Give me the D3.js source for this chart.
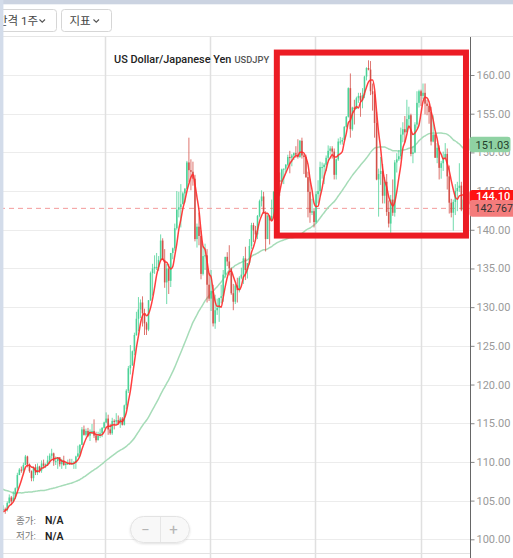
<!DOCTYPE html>
<html><head><meta charset="utf-8">
<script src="https://cdn.jsdelivr.net/npm/d3@7"></script>
<style>
html,body{margin:0;padding:0;background:#fff;overflow:hidden}
svg{display:block;font-family:Roboto,"Noto Sans CJK KR",sans-serif}
</style></head><body>
<svg id="c" width="513" height="558"></svg>
<script>
// ---- DATA (weekly USD/JPY, [high, low, close]; open = previous close) ----
const closes2020 = [108.1,109.5,110.1,109.3,108.4,109.7,109.8,111.6,107.9,105.4,108.0,110.8,107.9,108.5,108.5,107.5,107.5,106.9,106.7,107.1,107.6,107.8,109.6,107.4,106.9,107.2,107.5,106.9,107.0,106.1,105.9,105.9,106.6,105.8,105.4,106.2,106.1,104.6,105.6,105.3,105.6,105.4,104.7,104.7,103.4,104.6,103.9,104.1,104.2,104.0,103.3,103.6,103.3];

const w2021 = [
[104.1,102.6,103.9],[104.4,103.5,103.9],[104.1,103.3,103.8],[104.9,103.6,104.7],
[105.8,104.6,105.4],[105.6,104.4,104.9],[106.2,104.9,105.4],[106.7,105.2,106.6],
[108.6,106.4,108.3],[109.2,108.3,109.0],[109.4,108.6,108.9],[109.9,108.4,109.6],[110.9,109.6,110.7],
[110.8,109.3,109.7],[109.8,108.6,108.8],[108.9,107.5,107.9],[109.4,107.5,109.3],
[109.7,108.3,108.6],[109.8,108.3,109.4],[109.5,108.6,108.9],[110.2,108.6,109.8],
[110.3,109.2,109.5],[109.8,109.2,109.7],[110.8,109.5,110.2],[111.1,109.7,110.8],[111.7,110.4,111.1],
[111.2,109.5,110.1],[110.7,109.6,110.1],[110.6,109.1,110.6],[110.6,109.4,109.7],
[110.4,109.1,110.2],[110.8,109.5,109.6],[110.0,109.1,109.8],[110.3,109.6,109.8],
[110.4,109.6,109.7],[110.4,109.6,109.9],[110.1,109.1,109.9],[110.8,109.1,110.7],[112.1,110.6,111.1],
[112.3,110.8,112.2],[114.5,112.2,114.2],[114.7,113.4,113.5],[114.3,113.3,114.0],
[114.4,113.2,113.4],[114.2,112.7,113.9],[114.9,113.6,114.0],[115.5,113.1,113.4],
[113.9,112.5,112.8],[113.9,112.9,113.4],[114.3,113.1,113.7],[114.5,113.2,114.4],[115.2,114.3,115.1]];

const w2022 = [
[116.4,115.0,115.6],[116.1,113.5,114.2],[114.9,113.5,113.7],[115.7,113.5,115.3],
[115.5,114.2,115.2],[116.3,114.8,115.4],[116.0,114.8,115.0],[115.8,114.4,115.6],
[115.8,114.7,114.8],[117.4,114.7,117.3],[119.4,116.8,119.2],[122.4,118.9,122.1],[125.1,121.3,122.5],
[124.4,122.4,124.3],[126.7,123.8,126.4],[129.4,126.3,128.5],[131.3,126.9,129.7],
[131.0,128.6,130.6],[131.4,127.5,129.2],[129.8,126.4,127.9],[128.1,126.4,127.1],
[130.9,126.9,130.9],[134.6,130.8,134.4],[135.6,131.5,135.0],[136.7,134.3,135.2],[137.0,134.8,135.2],
[136.6,134.7,136.1],[139.4,136.1,138.6],[138.9,136.6,136.1],[137.5,132.5,133.2],
[135.6,130.4,135.0],[135.6,131.7,133.4],[137.0,132.6,137.0],[137.7,136.2,137.6],
[140.8,137.3,140.2],[145.0,140.0,142.6],[144.9,141.6,142.9],[145.9,140.3,143.3],[144.9,143.5,144.7],
[145.4,143.5,145.3],[148.9,145.2,148.7],[151.9,146.2,147.7],[149.1,145.1,147.5],
[148.8,145.7,146.6],[147.1,138.5,138.8],[140.8,137.7,140.4],[142.2,138.0,139.2],
[139.9,133.6,134.3],[137.9,134.1,136.6],[138.2,134.8,136.7],[137.5,130.6,132.9],[134.4,130.8,131.1]];

const w2023 = [
[134.8,129.5,132.1],[132.9,127.5,127.9],[131.6,127.2,129.6],[131.1,129.0,129.9],
[131.2,128.1,131.2],[132.9,130.5,131.4],[134.8,130.7,134.2],[136.5,133.8,136.5],
[137.1,135.3,135.9],[138.0,134.1,135.0],[135.1,131.6,131.8],[133.0,129.6,130.7],[133.0,130.4,132.8],
[133.8,130.6,132.2],[134.0,131.9,133.8],[135.1,133.6,134.2],[136.6,133.0,136.3],
[137.8,133.5,134.8],[135.5,133.7,135.7],[138.8,135.5,137.9],[140.9,137.5,140.6],
[140.9,138.4,139.9],[140.5,138.8,139.4],[141.9,138.8,141.8],[143.9,141.6,143.7],[145.1,143.0,144.3],
[144.9,142.1,142.1],[142.4,137.2,138.8],[142.0,138.8,141.8],[141.9,138.1,141.2],
[143.9,141.5,141.8],[145.0,141.5,144.9],[146.6,144.6,145.4],[146.6,144.5,146.4],
[147.4,144.4,146.2],[147.9,145.9,147.8],[147.9,145.9,147.9],[148.5,147.4,148.4],[149.7,148.2,149.4],
[150.2,147.3,149.3],[149.8,148.2,149.6],[150.0,149.0,149.9],[150.8,149.3,149.7],
[151.7,149.2,149.4],[151.6,149.3,151.5],[151.9,149.2,149.6],[149.8,147.2,149.4],
[149.7,146.7,146.8],[147.5,141.6,144.9],[146.6,140.9,142.2],[144.0,141.9,142.4],[142.8,140.3,141.0]];

const w2024 = [
[145.0,140.8,144.6],[146.4,143.4,145.0],[148.8,144.3,148.1],[148.7,146.6,148.1],[148.6,145.9,148.4],
[149.6,147.6,149.3],[150.9,148.9,150.2],[150.8,149.7,150.5],
[150.8,149.2,150.1],[150.5,146.5,147.1],[149.2,146.5,149.1],[151.8,148.9,151.4],[152.0,151.0,151.4],
[151.9,151.0,151.6],[153.4,151.6,153.3],[154.7,153.2,154.6],[158.4,154.5,158.3],
[160.2,151.9,153.0],[155.9,152.8,155.8],[156.8,153.6,155.6],[157.2,155.6,157.0],[157.7,156.4,157.3],
[157.7,154.6,156.7],[158.3,155.7,157.4],[159.9,157.0,159.8],[161.0,159.3,160.9],
[161.9,160.6,160.7],[161.8,157.4,157.9],[158.9,155.4,157.5],[157.9,151.9,153.8],
[155.2,146.4,146.5],[147.9,141.7,147.2],[149.4,145.8,147.6],[148.5,143.4,144.4],[146.8,143.4,146.2],
[147.2,141.8,142.3],[143.8,140.3,140.8],[144.5,139.6,143.9],[146.5,141.8,142.2],
[149.0,141.7,148.7],[149.9,147.4,149.1],[150.3,148.9,149.5],[153.2,149.1,152.3],
[153.9,151.3,153.0],[154.7,151.3,152.6],[156.8,152.7,154.3],[155.9,153.3,154.8],[155.0,149.5,149.8],
[150.8,148.6,150.0],[153.9,149.9,153.6],[157.9,153.1,156.4],[158.1,155.8,157.9]];

const w2025 = [
[158.1,156.0,157.3],[158.9,156.9,157.7],[158.9,154.9,156.3],[156.8,154.8,156.0],[156.2,153.7,155.2],
[155.9,150.9,151.4],[154.8,151.3,152.3],[152.4,149.3,149.3],[151.2,148.6,150.6],
[150.9,146.5,148.0],[148.9,146.6,148.6],[150.1,147.6,149.3],[151.2,149.1,149.8],
[150.5,145.2,146.9],[148.3,142.1,143.5],[144.0,141.6,142.2],[143.9,139.9,143.6],
[145.9,141.9,145.0],[146.2,142.4,145.4],[148.6,144.9,145.7],[146.2,142.4,142.6],[144.5,142.1,143.9],
[145.4,142.4,144.8],[145.5,142.8,144.1]];

const yTicks = [100,105,110,115,120,125,130,135,140,145,150,155,160];
const maShort = 5, maLong = 52;
const lastPrice = 144.10, refPrice = 142.767, maLongLabel = 151.03;
const highlightFrom = "2023-08-20", highlightTo = "2025-06-06", highlightTop = 162.9, highlightBottom = 139.25;
const titleText = "US Dollar/Japanese Yen", tickerText = "USDJPY";
const legendLabels = ["종가:", "저가:"], legendValues = ["N/A", "N/A"];
const toolbarLabels = ["간격 1주", "지표"];

// ---- BUILD ----
const weeks = [].concat(w2021, w2022, w2023, w2024, w2025);
const fridays = d3.timeFriday.range(new Date(2021,0,8), new Date(2025,5,14));
const n = Math.min(weeks.length, fridays.length);
const allCloses = closes2020.concat(weeks.map(w => w[2]));
const off = closes2020.length;
const candles = [];
for (let i = 0; i < n; i++) {
  const [h, l, c] = weeks[i];
  const o = allCloses[off + i - 1];
  candles.push({date: d3.timeDay.offset(fridays[i], -2), o, h, l, c,
    s: d3.mean(allCloses.slice(off + i - maShort + 1, off + i + 1)),
    L: d3.mean(allCloses.slice(Math.max(0, off + i - maLong + 1), off + i + 1))});
}

const svg = d3.select("#c");
const W = 513, H = 558, plotR = 470, plotT = 37, plotB = 553;
const x = d3.scaleTime().domain([new Date(2022,0,1), new Date(2025,0,1)]).range([105, 421]);
const y = d3.scaleLinear().domain([100,160]).range([539.3, 75]);

const defs = svg.append("defs");
defs.append("clipPath").attr("id","plot").append("rect").attr("x",0).attr("y",plotT).attr("width",plotR).attr("height",plotB-plotT);
const sh = defs.append("filter").attr("id","sh").attr("x","-20%").attr("y","-30%").attr("width","140%").attr("height","170%");
sh.append("feDropShadow").attr("dx",0).attr("dy",1).attr("stdDeviation",1.2).attr("flood-color","#000").attr("flood-opacity",0.12);

svg.append("rect").attr("width",W).attr("height",H).attr("fill","#fff");

// horizontal grid
svg.append("g").selectAll("line").data(yTicks).join("line")
  .attr("x1",0).attr("x2",plotR).attr("y1",d=>Math.round(y(d))+0.5).attr("y2",d=>Math.round(y(d))+0.5)
  .attr("stroke","#ececec").attr("stroke-width",1);
// vertical grid (yearly)
const years = x.ticks(d3.timeYear.every(1)).filter(d => x(d) > 5 && x(d) < plotR);
svg.append("g").selectAll("line").data(years).join("line")
  .attr("x1",d=>Math.round(x(d))+0.5).attr("x2",d=>Math.round(x(d))+0.5).attr("y1",plotT).attr("y2",H)
  .attr("stroke","#e0e0e0").attr("stroke-width",1.5);
svg.append("line").attr("x1",0).attr("x2",plotR).attr("y1",plotB+0.5).attr("y2",plotB+0.5).attr("stroke","#e2e2e2");

const plot = svg.append("g").attr("clip-path","url(#plot)");
plot.append("line").attr("x1",0).attr("x2",plotR).attr("y1",y(refPrice)).attr("y2",y(refPrice))
  .attr("stroke","#f49a9a").attr("stroke-width",1).attr("stroke-dasharray","5,4");

const lineL = d3.line().x(d=>x(d.date)).y(d=>y(d.L)).curve(d3.curveMonotoneX);
plot.append("path").datum(candles).attr("d",lineL).attr("fill","none").attr("stroke","#a6dcb8").attr("stroke-width",1.5);

const up = "#45d093", dn = "#d24a42";
const cg = plot.append("g");
cg.selectAll("line").data(candles).join("line")
  .attr("x1",d=>x(d.date)).attr("x2",d=>x(d.date))
  .attr("y1",d=>y(Math.max(d.h,d.o,d.c))).attr("y2",d=>y(Math.min(d.l,d.o,d.c)))
  .attr("stroke",d=>d.c>=d.o?up:dn).attr("stroke-width",0.9).attr("opacity",0.85);
cg.selectAll("rect").data(candles).join("rect")
  .attr("x",d=>x(d.date)-0.8).attr("width",1.6)
  .attr("y",d=>y(Math.max(d.o,d.c)))
  .attr("height",d=>Math.max(1, y(Math.min(d.o,d.c))-y(Math.max(d.o,d.c))))
  .attr("fill",d=>d.c>=d.o?up:dn).attr("opacity",0.9);

const lineS = d3.line().x(d=>x(d.date)).y(d=>y(d.s)).curve(d3.curveMonotoneX);
plot.append("path").datum(candles).attr("d",lineS).attr("fill","none").attr("stroke","#ff2a2a").attr("stroke-width",1.5).attr("opacity",0.9);

const x0 = x(new Date(highlightFrom)), x1 = x(new Date(highlightTo));
svg.append("rect").attr("x",x0).attr("y",y(highlightTop)).attr("width",x1-x0).attr("height",y(highlightBottom)-y(highlightTop))
  .attr("fill","none").attr("stroke","#ec1c24").attr("stroke-width",6);

// right axis
svg.append("rect").attr("x",plotR).attr("y",plotT).attr("width",W-plotR).attr("height",H-plotT).attr("fill","#fff");
const ax = svg.append("g").attr("transform",`translate(${plotR+0.5},0)`)
  .call(d3.axisRight(y).tickValues(yTicks).tickFormat(d3.format(".2f")).tickSize(4).tickPadding(2));
ax.select(".domain").remove();
ax.selectAll(".tick line").attr("stroke","#888");
ax.selectAll(".tick text").attr("fill","#9a9a9a").attr("font-size","11px").attr("font-family","Roboto,sans-serif");
svg.append("line").attr("x1",plotR+0.5).attr("x2",plotR+0.5).attr("y1",plotT).attr("y2",H).attr("stroke","#666");

// price labels
function tag(v, txt, fill, color, w, h, dy, weight, fs, tx) {
  const g = svg.append("g");
  g.append("rect").attr("x",plotR-0.5).attr("y",y(v)-h/2).attr("width",w).attr("height",h).attr("rx",3).attr("fill",fill);
  g.append("text").attr("x",tx).attr("y",y(v)+dy).attr("dy","0.35em").attr("fill",color)
    .attr("font-size",fs).attr("font-weight",weight).text(txt);
}
tag(maLongLabel, d3.format(".2f")(maLongLabel), "#8fd2a3", "#23402c", 41, 15.5, 0.5, 400, "11px", 475.5);
tag(lastPrice, d3.format(".2f")(lastPrice), "#ff1212", "#fff", 46, 16, -1.5, 500, "11px", 476);
tag(refPrice, d3.format(".3f")(refPrice), "#f47c7c", "#333", 46, 16.6, 0, 400, "10.6px", 474.5);

// toolbar
svg.append("rect").attr("x",0).attr("y",0).attr("width",W).attr("height",plotT).attr("fill","#fff");
svg.append("line").attr("x1",0).attr("x2",W).attr("y1",36.5).attr("y2",36.5).attr("stroke","#e6e6e6");
const btns = [{x:-20, w:76.5, tx:-3, cx:39.5}, {x:61.5, w:50, tx:69.5, cx:93.5}];
btns.forEach((b,i) => {
  svg.append("rect").attr("x",b.x).attr("y",9.5).attr("width",b.w).attr("height",22).attr("rx",3)
    .attr("fill","#fff").attr("stroke","#d6d6d6");
  svg.append("text").attr("x",b.tx).attr("y",24.5).attr("font-size","11.5px").attr("fill","#444").text(toolbarLabels[i]);
  svg.append("path").attr("d",`M${b.cx},19.5 L${b.cx+2.75},22.25 L${b.cx+5.5},19.5`).attr("fill","none").attr("stroke","#555").attr("stroke-width",1.1);
});
svg.append("rect").attr("x",0).attr("y",0).attr("width",W).attr("height",4.3).attr("fill","#cbd3e1");
svg.append("rect").attr("x",0).attr("y",0).attr("width",3.4).attr("height",H).attr("fill","#d3dcea");

// title
svg.append("text").attr("x",114).attr("y",62.5).attr("font-size","10.9px").attr("font-weight",500).attr("fill","#222").text(titleText);
svg.append("text").attr("x",234.5).attr("y",62.5).attr("font-size","9.3px").attr("font-weight",500).attr("fill","#555").text(tickerText);

// bottom-left legend
legendLabels.forEach((t,i) => {
  svg.append("text").attr("x",16).attr("y",523.5+i*15.7).attr("font-size","9.5px").attr("fill","#777").text(t);
  svg.append("text").attr("x",45).attr("y",524+i*15.7).attr("font-size","10.5px").attr("font-weight",600).attr("fill","#222").text(legendValues[i]);
});

// zoom pill
svg.append("rect").attr("x",130.5).attr("y",516.5).attr("width",59).attr("height",26).attr("rx",13)
  .attr("fill","#f8f8f8").attr("stroke","#e3e3e3").attr("filter","url(#sh)");
svg.append("line").attr("x1",160.5).attr("x2",160.5).attr("y1",517).attr("y2",542).attr("stroke","#e6e6e6");
svg.append("text").attr("x",145.5).attr("y",534.5).attr("text-anchor","middle").attr("font-size","15px").attr("fill","#b5b5b5").text("−");
svg.append("text").attr("x",173.5).attr("y",534.5).attr("text-anchor","middle").attr("font-size","15px").attr("fill","#b5b5b5").text("+");
</script>
</body></html>
